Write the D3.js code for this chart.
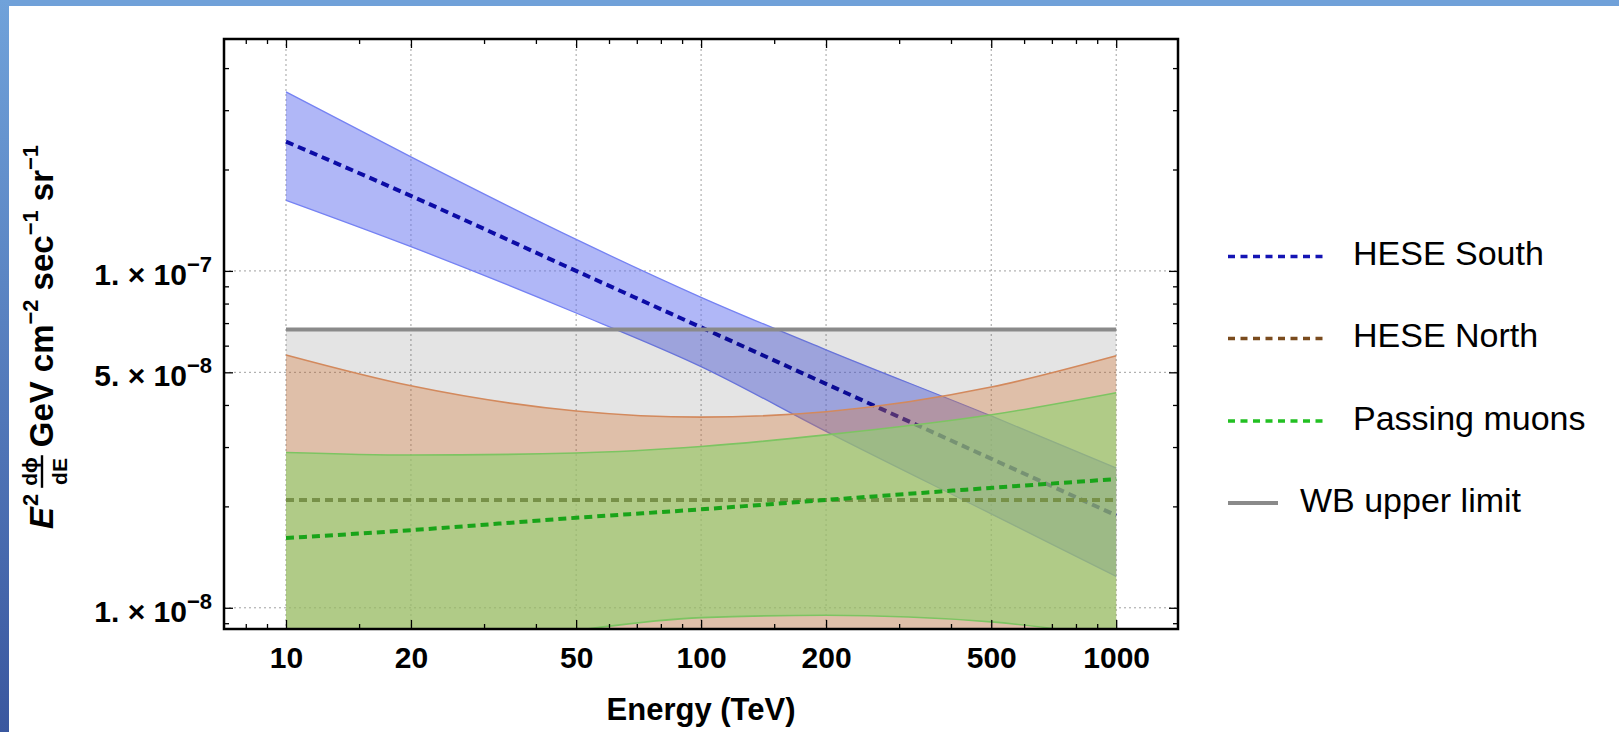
<!DOCTYPE html>
<html lang="en">
<head>
  <meta charset="UTF-8">
  <title>Neutrino flux bands</title>
  <script src="https://d3js.org/d3.v7.min.js"></script>
  <style>
    html, body { margin: 0; padding: 0; background: #fff; }
    svg { display: block; font-family: "Liberation Sans", Arial, Helvetica, sans-serif; }
  </style>
</head>
<body>
  <div id="chart"></div>
  <script>
    // energies (TeV) where the curves were read
    const energy = [10, 20, 50, 100, 200, 500, 1000];

    // HESE South: best fit and band
    const southMid = [2.42e-7, 1.67e-7, 1.0e-7, 6.8e-8, 4.62e-8, 2.77e-8, 1.88e-8];
    const southHi = [3.40e-7, 2.18e-7, 1.24e-7, 8.35e-8, 5.83e-8, 3.71e-8, 2.6e-8];
    const southLo = [1.62e-7, 1.18e-7, 7.5e-8, 5.2e-8, 3.34e-8, 1.90e-8, 1.24e-8];

    // HESE North: best fit and upper edge (band runs off the bottom)
    const northMid = [2.09e-8, 2.09e-8, 2.09e-8, 2.09e-8, 2.09e-8, 2.09e-8, 2.09e-8];
    const northHi = [5.63e-8, 4.56e-8, 3.84e-8, 3.68e-8, 3.82e-8, 4.52e-8, 5.6e-8];

    // Passing muons
    const muonMid = [1.61e-8, 1.70e-8, 1.85e-8, 1.96e-8, 2.09e-8, 2.27e-8, 2.41e-8];
    const muonHi = [2.89e-8, 2.84e-8, 2.88e-8, 3.01e-8, 3.26e-8, 3.74e-8, 4.35e-8];
    const muonLo = [5.8e-9, 7.1e-9, 8.57e-9, 9.35e-9, 9.5e-9, 9.08e-9, 8.2e-9];

    // Waxman-Bahcall upper limit
    const wbEnergy = [10, 1000];
    const wbLimit = [6.7e-8, 6.7e-8];

    // ticks
    const xMajor = [10, 20, 50, 100, 200, 500, 1000];
    const xMinor = [8, 9, 15, 30, 40, 60, 70, 80, 90, 150, 300, 400, 600, 700, 800, 900];
    const yMajor = [1e-8, 5e-8, 1e-7];
    const yMant = ['1.', '5.', '1.'];
    const yExp = ['\u22128', '\u22128', '\u22127'];
    const yMinor = [9e-9, 2e-8, 3e-8, 4e-8, 6e-8, 7e-8, 8e-8, 9e-8, 2e-7, 3e-7, 4e-7];

    const legendNames = ['HESE South', 'HESE North', 'Passing muons', 'WB upper limit'];

    const W = 1619, H = 732;
    const L = 224, T = 39, R = 1178, B = 629;

    const x = d3.scaleLog().domain([7.09, 1409]).range([L, R]);
    const y = d3.scaleLog().domain([8.65e-9, 4.88e-7]).range([B, T]);

    const svg = d3.select('#chart').append('svg')
      .attr('width', W).attr('height', H);

    // slide background strips
    const defs = svg.append('defs');
    const grad = defs.append('linearGradient').attr('id', 'side')
      .attr('x1', 0).attr('y1', 0).attr('x2', 0).attr('y2', 1);
    grad.append('stop').attr('offset', '0%').attr('stop-color', '#70a2da');
    grad.append('stop').attr('offset', '100%').attr('stop-color', '#3a579f');
    defs.append('clipPath').attr('id', 'plot')
      .append('rect').attr('x', L).attr('y', T).attr('width', R - L).attr('height', B - T);

    svg.append('rect').attr('x', 0).attr('y', 0).attr('width', W).attr('height', 6).attr('fill', '#70a1d9');
    svg.append('rect').attr('x', 0).attr('y', 0).attr('width', 9).attr('height', H).attr('fill', 'url(#side)');

    // grid
    const grid = svg.append('g');
    grid.selectAll('.gx').data(xMajor).enter().append('line')
      .attr('x1', d => x(d)).attr('x2', d => x(d)).attr('y1', T).attr('y2', B)
      .attr('stroke', '#a0a0a0').attr('stroke-width', 1).attr('stroke-dasharray', '2,3');
    grid.selectAll('.gy').data(yMajor).enter().append('line')
      .attr('y1', d => y(d)).attr('y2', d => y(d)).attr('x1', L).attr('x2', R)
      .attr('stroke', '#a0a0a0').attr('stroke-width', 1).attr('stroke-dasharray', '2,3');

    const plot = svg.append('g').attr('clip-path', 'url(#plot)');

    const line = d3.line().x(d => x(d[0])).y(d => y(d[1])).curve(d3.curveMonotoneX);
    const band = (hi, lo) => d3.area()
      .x((d, i) => x(energy[i]))
      .y0((d, i) => lo ? y(lo[i]) : B + 5)
      .y1((d, i) => y(hi[i]))
      .curve(d3.curveMonotoneX)(energy);
    const pts = vals => energy.map((e, i) => [e, vals[i]]);

    // HESE South
    plot.append('path').attr('d', band(southHi, southLo))
      .attr('fill', '#6270f0').attr('fill-opacity', 0.5);
    [southHi, southLo].forEach(v => plot.append('path').attr('d', line(pts(v)))
      .attr('fill', 'none').attr('stroke', '#7582f3').attr('stroke-width', 1.3));
    plot.append('path').attr('d', line(pts(southMid)))
      .attr('fill', 'none').attr('stroke', '#0c0ca6').attr('stroke-width', 4).attr('stroke-dasharray', '8,5');

    // HESE North
    plot.append('path').attr('d', band(northHi, null))
      .attr('fill', '#f18a45').attr('fill-opacity', 0.35);
    plot.append('path').attr('d', line(pts(northHi)))
      .attr('fill', 'none').attr('stroke', '#ec9a68').attr('stroke-width', 1.6);
    plot.append('path').attr('d', line(pts(northMid)))
      .attr('fill', 'none').attr('stroke', '#5c360e').attr('stroke-width', 4).attr('stroke-dasharray', '8,5');

    // Passing muons
    plot.append('path').attr('d', band(muonHi, muonLo))
      .attr('fill', '#a2ed7f').attr('fill-opacity', 0.6);
    [muonHi, muonLo].forEach(v => plot.append('path').attr('d', line(pts(v)))
      .attr('fill', 'none').attr('stroke', '#8cdc6e').attr('stroke-width', 1.6));
    plot.append('path').attr('d', line(pts(muonMid)))
      .attr('fill', 'none').attr('stroke', '#1cb81c').attr('stroke-width', 4).attr('stroke-dasharray', '8,5');

    // WB upper limit, shaded below
    const wbPts = wbEnergy.map((e, i) => [e, wbLimit[i]]);
    plot.append('path')
      .attr('d', d3.area().x(d => x(d[0])).y0(B + 5).y1(d => y(d[1]))(wbPts))
      .attr('fill', '#000').attr('fill-opacity', 0.105);
    plot.append('path').attr('d', d3.line().x(d => x(d[0])).y(d => y(d[1]))(wbPts))
      .attr('fill', 'none').attr('stroke', '#8a8a8a').attr('stroke-width', 4);

    // axes (ticks point inward)
    const tickStyle = g => {
      g.select('.domain').remove();
      g.selectAll('.tick line').attr('stroke', '#000').attr('stroke-width', 1.3);
    };
    svg.append('g').attr('transform', `translate(0,${B})`)
      .call(d3.axisBottom(x).tickValues(xMajor).tickSize(-9).tickPadding(18).tickFormat(d3.format('d')))
      .call(tickStyle)
      .call(g => g.selectAll('text').attr('fill', '#000').attr('font-size', 30).attr('font-weight', 'bold')
        .attr('font-family', '"Liberation Sans", Arial, sans-serif'));
    svg.append('g').attr('transform', `translate(0,${B})`)
      .call(d3.axisBottom(x).tickValues(xMinor).tickSize(-5).tickFormat(''))
      .call(tickStyle);
    svg.append('g').attr('transform', `translate(0,${T})`)
      .call(d3.axisTop(x).tickValues(xMajor).tickSize(-9).tickFormat(''))
      .call(tickStyle);
    svg.append('g').attr('transform', `translate(0,${T})`)
      .call(d3.axisTop(x).tickValues(xMinor).tickSize(-5).tickFormat(''))
      .call(tickStyle);

    const yAx = svg.append('g').attr('transform', `translate(${L},0)`)
      .call(d3.axisLeft(y).tickValues(yMajor).tickSize(-9).tickPadding(12).tickFormat(() => ''))
      .call(tickStyle);
    yAx.selectAll('.tick text').each(function (d, i) {
      const t = d3.select(this).attr('fill', '#000').attr('font-size', 30).attr('font-weight', 'bold')
        .attr('font-family', '"Liberation Sans", Arial, sans-serif').attr('dy', '0.45em');
      t.append('tspan').text(yMant[i] + ' \u00d7 10');
      t.append('tspan').attr('font-size', 22).attr('dy', -13).text(yExp[i]);
    });
    svg.append('g').attr('transform', `translate(${L},0)`)
      .call(d3.axisLeft(y).tickValues(yMinor).tickSize(-5).tickFormat(''))
      .call(tickStyle);
    svg.append('g').attr('transform', `translate(${R},0)`)
      .call(d3.axisRight(y).tickValues(yMajor).tickSize(-9).tickFormat(''))
      .call(tickStyle);
    svg.append('g').attr('transform', `translate(${R},0)`)
      .call(d3.axisRight(y).tickValues(yMinor).tickSize(-5).tickFormat(''))
      .call(tickStyle);

    // frame
    svg.append('rect').attr('x', L).attr('y', T).attr('width', R - L).attr('height', B - T)
      .attr('fill', 'none').attr('stroke', '#000').attr('stroke-width', 2.5);

    // x title
    svg.append('text').attr('x', (L + R) / 2).attr('y', 720)
      .attr('text-anchor', 'middle').attr('font-size', 31).attr('font-weight', 'bold')
      .text('Energy (TeV)');

    // y title: E^2 dphi/dE GeV cm^-2 sec^-1 sr^-1
    const yt = svg.append('g').attr('font-weight', 'bold');
    const inner = yt.append('g');
    let cx = 0;
    const add = (txt, size, dy, italic) => {
      const t = inner.append('text').attr('x', cx).attr('y', dy).attr('font-size', size)
        .attr('font-style', italic ? 'italic' : 'normal').text(txt);
      cx += t.node().getComputedTextLength();
    };
    add('E', 33, 0, true);
    cx += 1;
    add('2', 22, -15);
    cx += 6;
    const num = inner.append('text').attr('font-size', 21).attr('y', -16).attr('text-anchor', 'middle').text('d\u03d5');
    const den = inner.append('text').attr('font-size', 21).attr('y', 14).attr('text-anchor', 'middle').text('dE');
    const fw = Math.max(num.node().getComputedTextLength(), den.node().getComputedTextLength()) + 4;
    num.attr('x', cx + fw / 2);
    den.attr('x', cx + fw / 2);
    inner.append('line').attr('x1', cx).attr('x2', cx + fw).attr('y1', -11).attr('y2', -11)
      .attr('stroke', '#000').attr('stroke-width', 2.4);
    cx += fw + 8;
    add('GeV', 33, 0);
    cx += 9;
    add('cm', 33, 0);
    add('\u22122', 22, -15);
    cx += 9;
    add('sec', 33, 0);
    add('\u22121', 22, -15);
    cx += 9;
    add('sr', 33, 0);
    add('\u22121', 22, -15);
    inner.attr('transform', `translate(${-cx / 2},0)`);
    yt.attr('transform', 'translate(53,337) rotate(-90)');

    // legend
    const leg = svg.append('g');
    const legY = [256.5, 338.5, 421, 503];
    const legStroke = ['#1414b4', '#7a4b1e', '#22c022', '#8a8a8a'];
    legendNames.forEach((name, i) => {
      const solid = i === 3;
      leg.append('line').attr('x1', 1228).attr('x2', solid ? 1278 : 1328)
        .attr('y1', legY[i]).attr('y2', legY[i])
        .attr('stroke', legStroke[i]).attr('stroke-width', solid ? 4 : 3.5)
        .attr('stroke-dasharray', solid ? null : '7,5.5');
      leg.append('text').attr('x', solid ? 1300 : 1353).attr('y', legY[i] + 8.5)
        .attr('font-size', 34).attr('fill', '#000').text(name);
    });
  </script>
</body>
</html>
